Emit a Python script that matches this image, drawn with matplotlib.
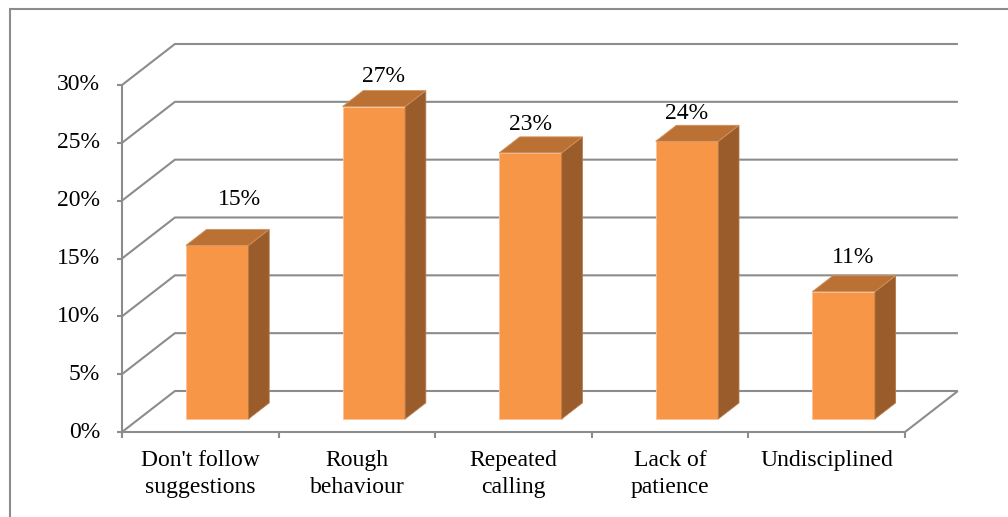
import matplotlib.pyplot as plt
from matplotlib.patches import Polygon, Rectangle

categories = ["Don't follow\nsuggestions", "Rough\nbehaviour", "Repeated\ncalling",
              "Lack of\npatience", "Undisciplined"]
values = [15, 27, 23, 24, 11]
yticks = [0, 5, 10, 15, 20, 25, 30]

# nudges (pixels) for the value labels
label_dx = [22, 10, 0, 0, 9]
label_dy = [46, 30, 28, 28, 34]

FRONT = "#F79646"
TOP = "#BC7134"
SIDE = "#9A5C2B"
GRID = "#8C8C8C"

# oblique depth offset in data units (x: categories, y: percent)
DX, DY = 0.338, 3.545
D0, D1 = 0.32, 0.71   # bar front / back depth
BW = 0.40

plt.rcParams['font.family'] = ['Liberation Serif', 'DejaVu Serif']
FS = 17

fig = plt.figure(figsize=(10.08, 5.17), dpi=100)
ax = fig.add_axes([122 / 1008, 85 / 517, 783 / 1008, 347 / 517])
ax.set_xlim(0, len(values))
ax.set_ylim(0, 30)
ax.axis("off")

# chart frame
fig.patches.append(Rectangle((10 / 1008, -0.1), 1.2, 1 - 9 / 517 + 0.1,
                             transform=fig.transFigure, fill=False,
                             edgecolor=GRID, lw=1.5, zorder=0))

n = len(values)
kw = dict(color=GRID, lw=1.5, clip_on=False, solid_capstyle="butt")
for v in yticks:
    ax.plot([0, DX, n + DX], [v, v + DY, v + DY], **kw)
    ax.plot([-0.03, 0], [v, v], **kw)
    ax.text(-0.14, v, f"{v}%", ha="right", va="center", fontsize=FS)
ax.plot([0, 0], [-0.5, 30], **kw)
ax.plot([0, n, n + DX], [0, 0, DY], **kw)
for i in range(n + 1):
    ax.plot([i, i], [0, -0.5], **kw)

for i, (v, lab) in enumerate(zip(values, categories)):
    x0 = i + 0.5 - BW / 2 + D0 * DX
    x1 = x0 + BW
    y0 = D0 * DY
    sx, sy = (D1 - D0) * DX, (D1 - D0) * DY
    front = Polygon([(x0, y0), (x1, y0), (x1, y0 + v), (x0, y0 + v)],
                    closed=True, fc=FRONT, ec="#FBC497", lw=0.6, clip_on=False, zorder=3)
    side = Polygon([(x1, y0), (x1 + sx, y0 + sy), (x1 + sx, y0 + sy + v), (x1, y0 + v)],
                   closed=True, fc=SIDE, ec="#B57A4A", lw=0.6, clip_on=False, zorder=3)
    top = Polygon([(x0, y0 + v), (x1, y0 + v), (x1 + sx, y0 + sy + v), (x0 + sx, y0 + sy + v)],
                  closed=True, fc=TOP, ec="#D09260", lw=0.6, clip_on=False, zorder=3)
    for p in (front, side, top):
        ax.add_patch(p)
    ax.annotate(f"{v}%", (i + 0.5 + D0 * DX, y0 + v), xytext=(label_dx[i], label_dy[i]),
                textcoords="offset pixels", ha="center", va="center", fontsize=FS,
                annotation_clip=False)
    ax.annotate(lab, (i + 0.5, 0), xytext=(0, -18), textcoords="offset pixels",
                ha="center", va="top", fontsize=FS, linespacing=1.38,
                annotation_clip=False)

fig.savefig("out.png", dpi=100)
